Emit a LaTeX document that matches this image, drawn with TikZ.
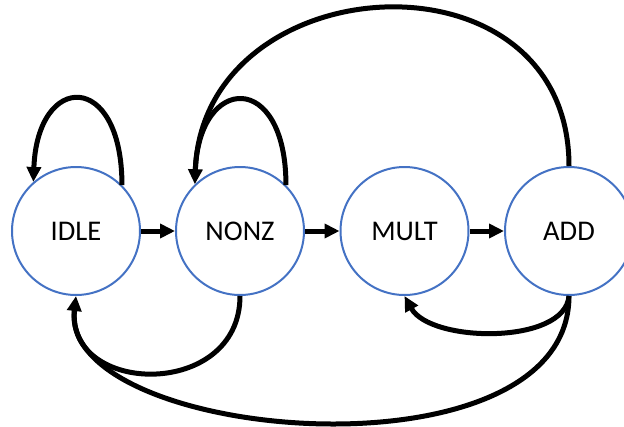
\documentclass[tikz,border=0pt]{standalone}
\usepackage{fontspec}
\setmainfont{Carlito}
\usetikzlibrary{arrows.meta}
\definecolor{stblue}{HTML}{4472C4}
\begin{document}
\begin{tikzpicture}[x=1pt,y=-1pt,
  state/.style={circle,draw=stblue,line width=2pt,minimum size=128pt,inner sep=0pt,fill=white,
    font=\fontsize{28.5}{33}\selectfont},
  edge/.style={line width=5pt,-{Triangle[length=15pt,width=14pt]}},
  plain/.style={line width=5pt}]
\useasboundingbox (0,0) rectangle (624,426);
\clip (0,0) rectangle (624,426);
\node[state] (idle) at (76,231) {IDLE};
\node[state] (nonz) at (240,231) {NONZ};
\node[state] (mult) at (404.5,231) {MULT};
\node[state] (add) at (569,231) {ADD};
% straight transitions
\draw[edge] (idle) -- (nonz);
\draw[edge] (nonz) -- (mult);
\draw[edge] (mult) -- (add);
% self loops
\draw[edge] (idle.45) .. controls +(0,-115) and +(4,-110) .. (idle.131);
\draw[edge] (nonz.45) .. controls +(0,-115) and +(4,-110) .. (nonz.134);
% ADD back to NONZ (top)
\draw[plain,shorten >=13pt] (add.90) .. controls +(0,-224) and +(7,-220) .. (nonz.134);
% ADD back to MULT
\draw[edge] (add.270) .. controls +(-4,49) and +(26,47) .. (mult.270);
% ADD back to IDLE (bottom)
\draw[edge] (add.270) .. controls +(0,190) and +(-17,146) .. (idle.270);
% NONZ back to IDLE
\draw[plain,shorten >=13pt] (nonz.270) .. controls +(0,104) and +(-11,100) .. (idle.270);
\end{tikzpicture}
\end{document}
